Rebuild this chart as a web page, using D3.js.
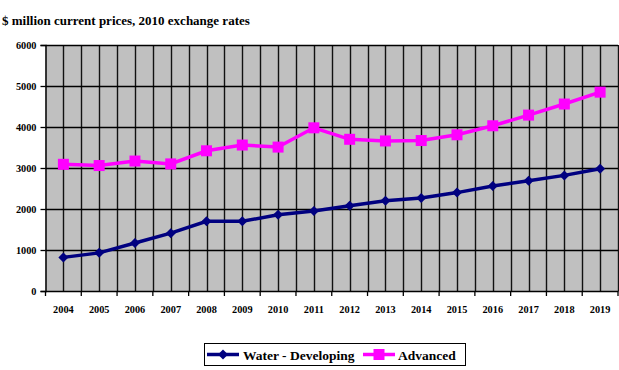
<!DOCTYPE html>
<html><head><meta charset="utf-8">
<script src="https://cdn.jsdelivr.net/npm/d3@7"></script>
<style>body{margin:0;background:#fff}svg{display:block}</style>
</head><body>
<script>
const years = ["2004","2005","2006","2007","2008","2009","2010","2011","2012","2013","2014","2015","2016","2017","2018","2019"];
const waterDeveloping = [820,930,1170,1410,1700,1700,1860,1950,2080,2200,2270,2400,2560,2690,2820,2980];
const advanced = [3090,3060,3170,3100,3420,3560,3510,3980,3700,3660,3670,3810,4030,4290,4560,4850];
const yTicks = [0,1000,2000,3000,4000,5000,6000];
const seriesNames = ["Water - Developing","Advanced"];
const seriesColors = ["#000080","#ff00ff"];

const FONT = "'Liberation Serif', 'Times New Roman', 'DejaVu Serif', serif";
const W=619,H=370;
const L=45.5,R=618,T=45,B=291;
const svg=d3.select("body").append("svg").attr("width",W).attr("height",H);

const x=d3.scaleBand().domain(years).range([L,R]);
const y=d3.scaleLinear().domain([0,6000]).range([B,T]);

function styleText(sel,size){
  sel.style("font-family",FONT).style("font-weight","bold").style("font-size",size+"px").attr("fill","#000");
}

styleText(svg.append("text").attr("x",2).attr("y",25).text("$ million current prices, 2010 exchange rates"),13);

svg.append("rect").attr("x",L).attr("y",T).attr("width",R-L).attr("height",B-T).attr("fill","#c0c0c0");

const g=svg.append("g");
const vx=[];
years.forEach(d=>{vx.push(x(d));vx.push(x(d)+x.bandwidth()/2);});
vx.push(R);
g.selectAll("line.v").data(vx.slice(1)).join("line")
 .attr("x1",d=>Math.round(d)+0.5).attr("x2",d=>Math.round(d)+0.5).attr("y1",T).attr("y2",B)
 .attr("stroke","#111").attr("stroke-width",1.4);
g.selectAll("line.h").data(yTicks.slice(1)).join("line")
 .attr("x1",L).attr("x2",R).attr("y1",d=>Math.round(y(d))+0.5).attr("y2",d=>Math.round(y(d))+0.5)
 .attr("stroke","#000").attr("stroke-width",1.4);

const ya=svg.append("g").attr("transform",`translate(${L},0)`)
 .call(d3.axisLeft(y).tickValues(yTicks).tickFormat(d3.format("d")).tickSize(5).tickPadding(4));
ya.select(".domain").attr("stroke","#000").attr("stroke-width",1.5);
ya.selectAll("line").attr("stroke","#000").attr("stroke-width",1.3);
styleText(ya.selectAll("text"),10.3);

const xa=svg.append("g").attr("transform",`translate(0,${B})`)
 .call(d3.axisBottom(x).tickSize(0).tickPadding(15));
xa.select(".domain").attr("stroke","#000").attr("stroke-width",1.5);
styleText(xa.selectAll("text"),10.3);
xa.selectAll("line.bt").data(years.map(d=>x(d)).concat([R])).join("line").attr("class","bt")
 .attr("x1",d=>d).attr("x2",d=>d).attr("y1",0).attr("y2",5).attr("stroke","#000").attr("stroke-width",1.3);

const cx=d=>x(d)+x.bandwidth()/2;
const line=d3.line().x((v,i)=>cx(years[i])).y(v=>y(v));

svg.append("path").datum(waterDeveloping).attr("d",line).attr("fill","none").attr("stroke",seriesColors[0]).attr("stroke-width",3.5);
svg.append("path").datum(advanced).attr("d",line).attr("fill","none").attr("stroke",seriesColors[1]).attr("stroke-width",3.5);

svg.selectAll("path.dm").data(waterDeveloping).join("path").attr("class","dm")
 .attr("d",d3.symbol().type(d3.symbolSquare).size(50))
 .attr("transform",(v,i)=>`translate(${cx(years[i])},${y(v)}) rotate(45)`).attr("fill",seriesColors[0]);
svg.selectAll("rect.sq").data(advanced).join("rect").attr("class","sq")
 .attr("x",(v,i)=>cx(years[i])-5.5).attr("y",v=>y(v)-5.5).attr("width",11).attr("height",11).attr("fill",seriesColors[1]);

const lg=svg.append("g");
lg.append("rect").attr("x",204.5).attr("y",343.5).attr("width",261).attr("height",22).attr("fill","#fff").attr("stroke","#000").attr("stroke-width",1);
const items=[{x:207,tx:243},{x:363,tx:398}];
items.forEach((it,i)=>{
  lg.append("line").attr("x1",it.x).attr("x2",it.x+32).attr("y1",354.5).attr("y2",354.5).attr("stroke",seriesColors[i]).attr("stroke-width",3.5);
  if(i===0) lg.append("path").attr("d",d3.symbol().type(d3.symbolSquare).size(50)).attr("transform",`translate(${it.x+16},354.5) rotate(45)`).attr("fill",seriesColors[0]);
  else lg.append("rect").attr("x",it.x+16-5.5).attr("y",349).attr("width",11).attr("height",11).attr("fill",seriesColors[1]);
  styleText(lg.append("text").attr("x",it.tx).attr("y",359.5).text(seriesNames[i]),13.5);
});
</script>
</body></html>
